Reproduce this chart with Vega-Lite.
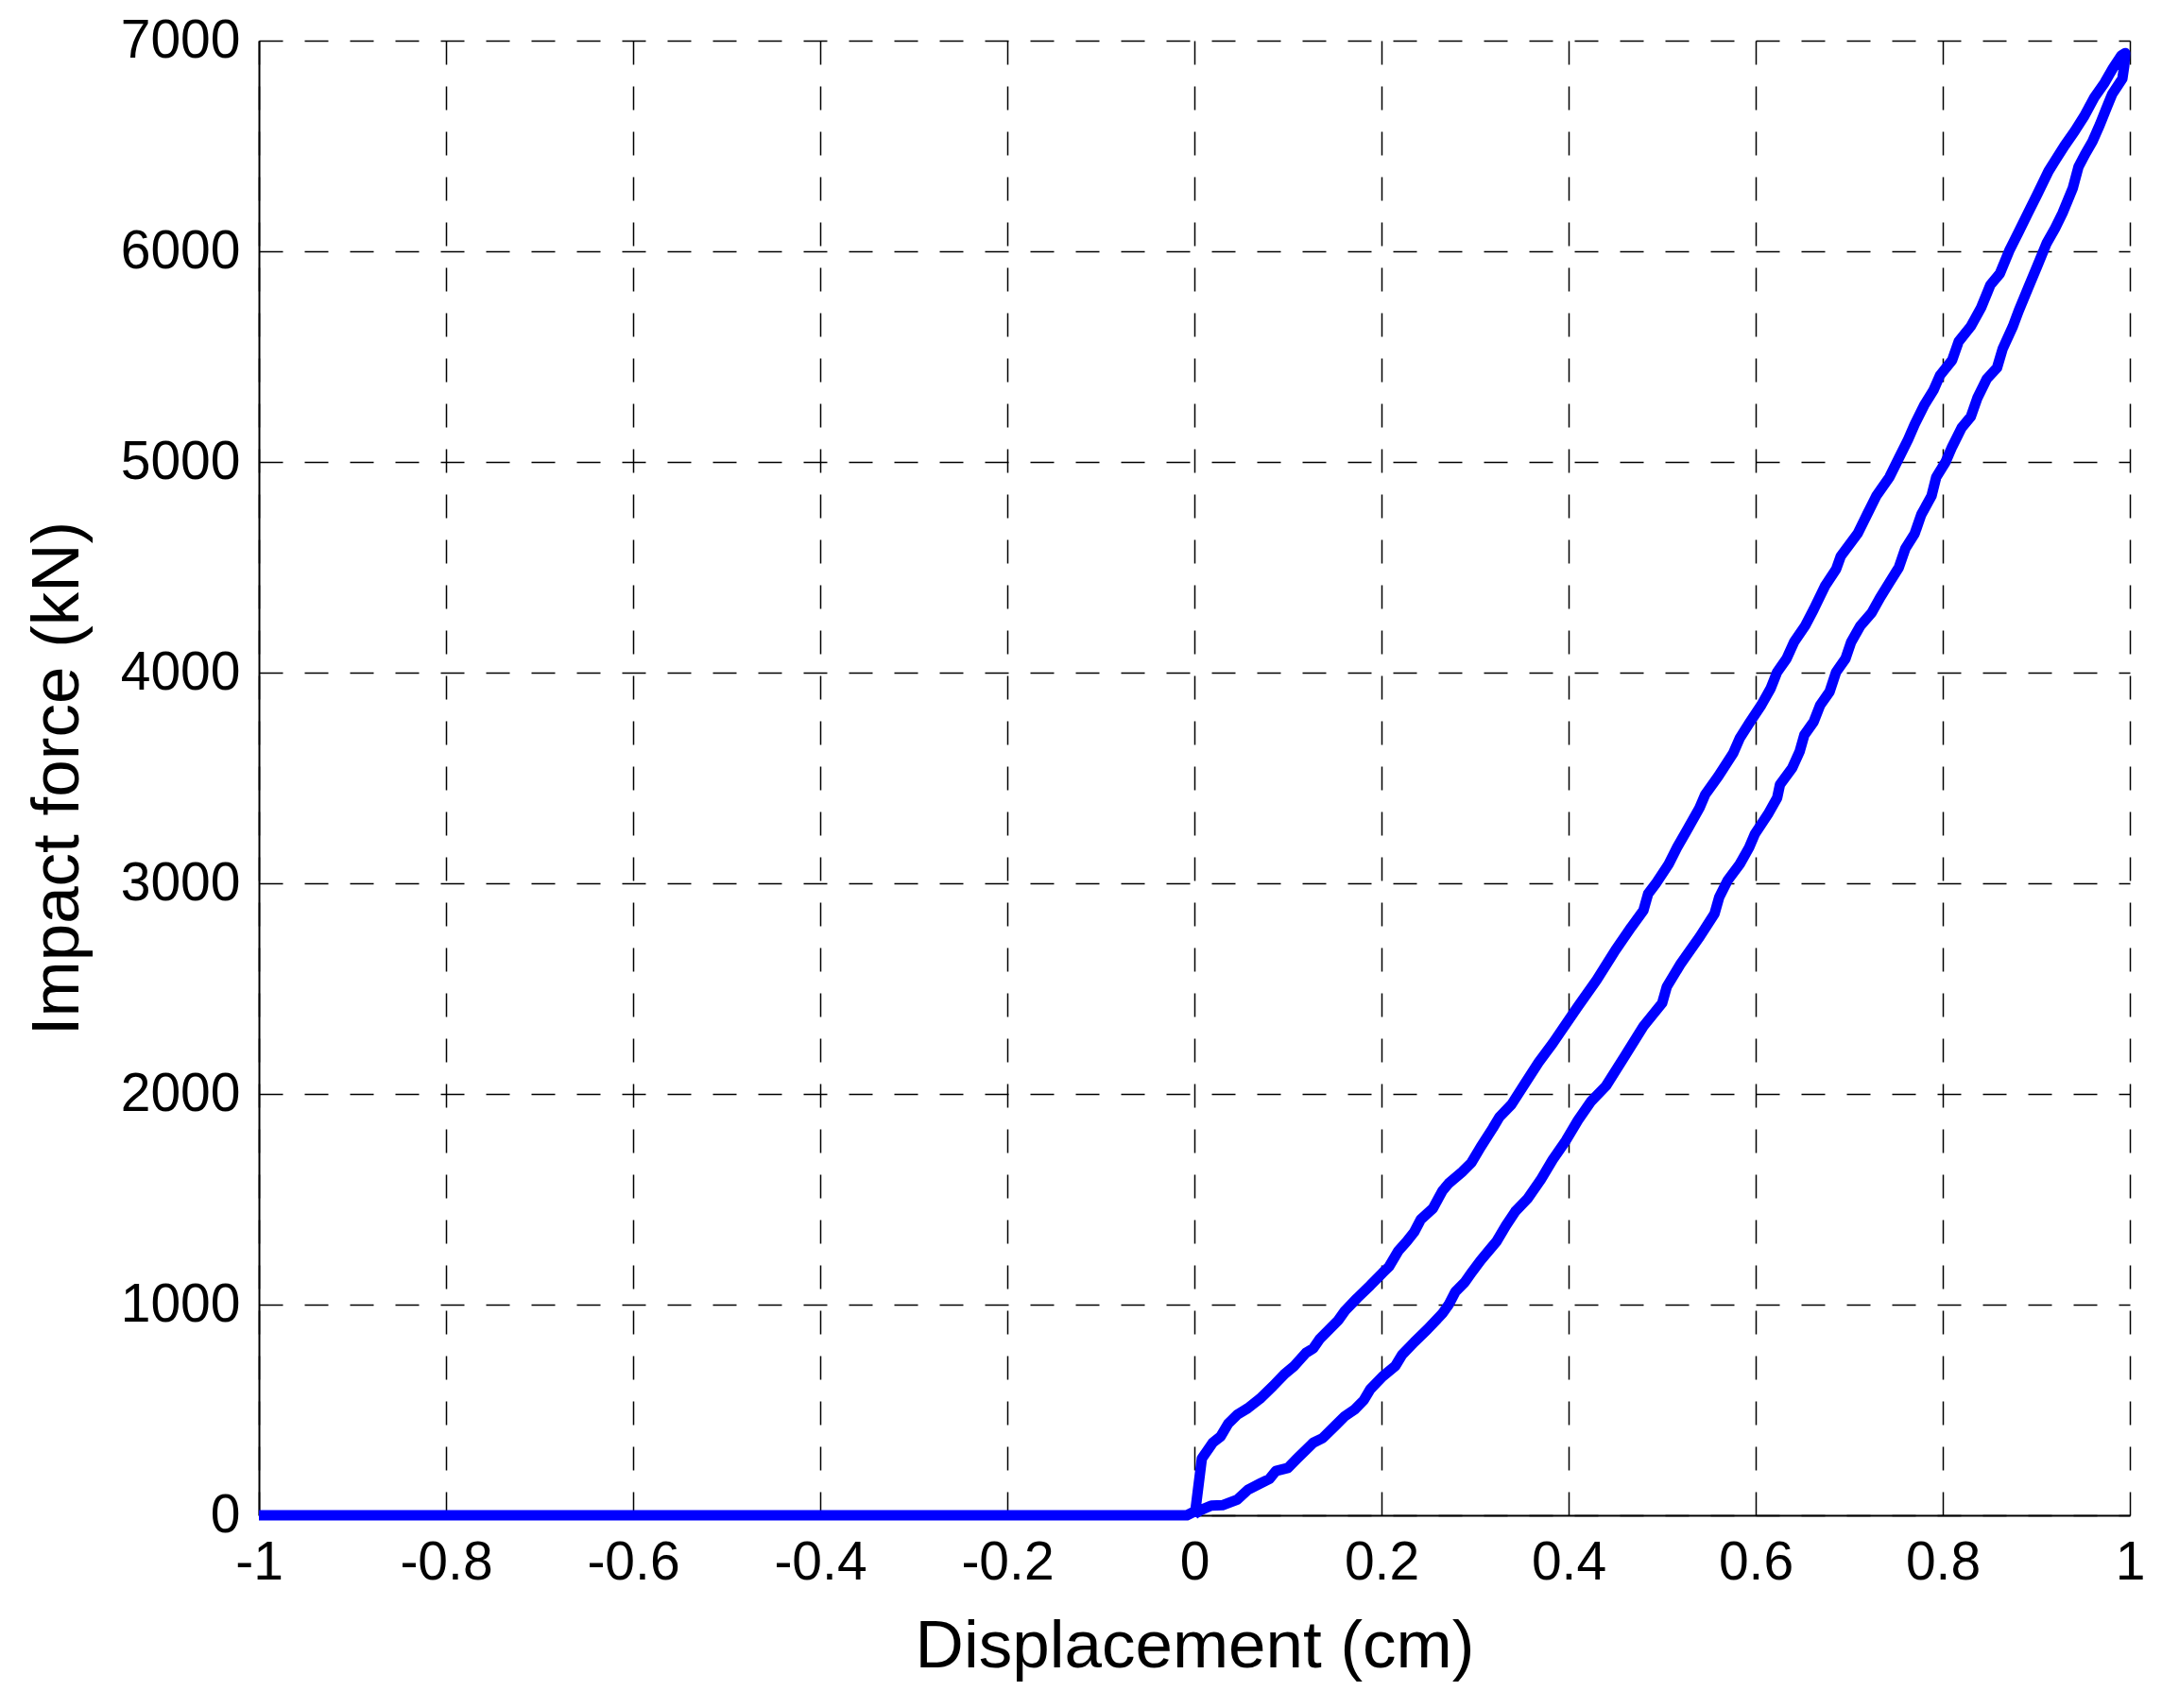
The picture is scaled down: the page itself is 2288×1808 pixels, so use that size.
{
  "$schema": "https://vega.github.io/schema/vega-lite/v6.json",
  "width": 1980,
  "height": 1561,
  "autosize": {"type": "none"},
  "padding": {"left": 274, "top": 43, "right": 34, "bottom": 204},
  "background": "white",
  "config": {
    "view": {"stroke": null},
    "font": "Liberation Sans",
    "axis": {
      "domainColor": "black",
      "domainWidth": 2,
      "grid": true,
      "gridColor": "black",
      "gridDash": [25, 23],
      "gridWidth": 1.5,
      "gridOpacity": 1,
      "ticks": false,
      "labelFont": "Liberation Sans",
      "labelFontSize": 57,
      "labelColor": "black",
      "titleFont": "Liberation Sans",
      "titleFontSize": 71,
      "titleFontWeight": "normal",
      "titleColor": "black"
    }
  },
  "data": {
    "values": [
      {"o": 1, "x": -1, "y": 0},
      {"o": 2, "x": -0.008, "y": 0},
      {"o": 3, "x": 0.001, "y": 20},
      {"o": 4, "x": 0.008, "y": 270},
      {"o": 5, "x": 0.0195, "y": 344},
      {"o": 6, "x": 0.028, "y": 374},
      {"o": 7, "x": 0.036, "y": 434},
      {"o": 8, "x": 0.046, "y": 478},
      {"o": 9, "x": 0.057, "y": 508},
      {"o": 10, "x": 0.07, "y": 553},
      {"o": 11, "x": 0.084, "y": 613},
      {"o": 12, "x": 0.097, "y": 673},
      {"o": 13, "x": 0.107, "y": 710},
      {"o": 14, "x": 0.119, "y": 770},
      {"o": 15, "x": 0.127, "y": 792},
      {"o": 16, "x": 0.134, "y": 837},
      {"o": 17, "x": 0.144, "y": 882},
      {"o": 18, "x": 0.154, "y": 927},
      {"o": 19, "x": 0.161, "y": 971},
      {"o": 20, "x": 0.174, "y": 1031},
      {"o": 21, "x": 0.188, "y": 1091},
      {"o": 22, "x": 0.201, "y": 1150},
      {"o": 23, "x": 0.208, "y": 1180},
      {"o": 24, "x": 0.218, "y": 1255},
      {"o": 25, "x": 0.227, "y": 1300},
      {"o": 26, "x": 0.235, "y": 1345},
      {"o": 27, "x": 0.242, "y": 1404},
      {"o": 28, "x": 0.255, "y": 1457},
      {"o": 29, "x": 0.265, "y": 1539},
      {"o": 30, "x": 0.272, "y": 1576},
      {"o": 31, "x": 0.286, "y": 1629},
      {"o": 32, "x": 0.296, "y": 1673},
      {"o": 33, "x": 0.306, "y": 1748},
      {"o": 34, "x": 0.319, "y": 1838},
      {"o": 35, "x": 0.326, "y": 1890},
      {"o": 36, "x": 0.339, "y": 1950},
      {"o": 37, "x": 0.353, "y": 2047},
      {"o": 38, "x": 0.368, "y": 2150},
      {"o": 39, "x": 0.383, "y": 2240},
      {"o": 40, "x": 0.393, "y": 2305},
      {"o": 41, "x": 0.41, "y": 2415},
      {"o": 42, "x": 0.43, "y": 2541},
      {"o": 43, "x": 0.45, "y": 2682},
      {"o": 44, "x": 0.467, "y": 2792},
      {"o": 45, "x": 0.48, "y": 2871},
      {"o": 46, "x": 0.485, "y": 2950},
      {"o": 47, "x": 0.493, "y": 2997},
      {"o": 48, "x": 0.507, "y": 3091},
      {"o": 49, "x": 0.516, "y": 3170},
      {"o": 50, "x": 0.526, "y": 3248},
      {"o": 51, "x": 0.54, "y": 3358},
      {"o": 52, "x": 0.546, "y": 3421},
      {"o": 53, "x": 0.56, "y": 3508},
      {"o": 54, "x": 0.576, "y": 3618},
      {"o": 55, "x": 0.583, "y": 3689},
      {"o": 56, "x": 0.593, "y": 3759},
      {"o": 57, "x": 0.606, "y": 3846},
      {"o": 58, "x": 0.616, "y": 3925},
      {"o": 59, "x": 0.623, "y": 4003},
      {"o": 60, "x": 0.633, "y": 4066},
      {"o": 61, "x": 0.641, "y": 4145},
      {"o": 62, "x": 0.653, "y": 4223},
      {"o": 63, "x": 0.662, "y": 4300},
      {"o": 64, "x": 0.674, "y": 4410},
      {"o": 65, "x": 0.686, "y": 4491},
      {"o": 66, "x": 0.691, "y": 4553},
      {"o": 67, "x": 0.709, "y": 4660},
      {"o": 68, "x": 0.719, "y": 4750},
      {"o": 69, "x": 0.729, "y": 4839},
      {"o": 70, "x": 0.743, "y": 4928},
      {"o": 71, "x": 0.753, "y": 5018},
      {"o": 72, "x": 0.763, "y": 5107},
      {"o": 73, "x": 0.77, "y": 5179},
      {"o": 74, "x": 0.78, "y": 5268},
      {"o": 75, "x": 0.79, "y": 5340},
      {"o": 76, "x": 0.797, "y": 5411},
      {"o": 77, "x": 0.81, "y": 5483},
      {"o": 78, "x": 0.817, "y": 5572},
      {"o": 79, "x": 0.83, "y": 5644},
      {"o": 80, "x": 0.841, "y": 5733},
      {"o": 81, "x": 0.851, "y": 5841},
      {"o": 82, "x": 0.861, "y": 5894},
      {"o": 83, "x": 0.871, "y": 6002},
      {"o": 84, "x": 0.881, "y": 6091},
      {"o": 85, "x": 0.891, "y": 6181},
      {"o": 86, "x": 0.901, "y": 6270},
      {"o": 87, "x": 0.913, "y": 6380},
      {"o": 88, "x": 0.92, "y": 6430},
      {"o": 89, "x": 0.93, "y": 6500},
      {"o": 90, "x": 0.941, "y": 6570},
      {"o": 91, "x": 0.951, "y": 6640},
      {"o": 92, "x": 0.962, "y": 6730},
      {"o": 93, "x": 0.973, "y": 6800},
      {"o": 94, "x": 0.982, "y": 6870},
      {"o": 95, "x": 0.991, "y": 6930},
      {"o": 96, "x": 0.995, "y": 6941},
      {"o": 97, "x": 0.994, "y": 6880},
      {"o": 98, "x": 0.992, "y": 6820},
      {"o": 99, "x": 0.981, "y": 6745},
      {"o": 100, "x": 0.975, "y": 6680},
      {"o": 101, "x": 0.968, "y": 6602},
      {"o": 102, "x": 0.96, "y": 6521},
      {"o": 103, "x": 0.952, "y": 6460},
      {"o": 104, "x": 0.945, "y": 6400},
      {"o": 105, "x": 0.939, "y": 6300},
      {"o": 106, "x": 0.928, "y": 6181},
      {"o": 107, "x": 0.92, "y": 6109},
      {"o": 108, "x": 0.911, "y": 6038},
      {"o": 109, "x": 0.901, "y": 5930},
      {"o": 110, "x": 0.891, "y": 5823},
      {"o": 111, "x": 0.881, "y": 5716},
      {"o": 112, "x": 0.875, "y": 5644},
      {"o": 113, "x": 0.864, "y": 5537},
      {"o": 114, "x": 0.858, "y": 5447},
      {"o": 115, "x": 0.847, "y": 5394},
      {"o": 116, "x": 0.837, "y": 5304},
      {"o": 117, "x": 0.83, "y": 5215},
      {"o": 118, "x": 0.82, "y": 5161},
      {"o": 119, "x": 0.81, "y": 5072},
      {"o": 120, "x": 0.803, "y": 5000},
      {"o": 121, "x": 0.793, "y": 4928},
      {"o": 122, "x": 0.788, "y": 4839},
      {"o": 123, "x": 0.777, "y": 4750},
      {"o": 124, "x": 0.77, "y": 4660},
      {"o": 125, "x": 0.76, "y": 4589},
      {"o": 126, "x": 0.753, "y": 4499},
      {"o": 127, "x": 0.743, "y": 4428},
      {"o": 128, "x": 0.733, "y": 4356},
      {"o": 129, "x": 0.724, "y": 4284},
      {"o": 130, "x": 0.712, "y": 4223},
      {"o": 131, "x": 0.702, "y": 4145},
      {"o": 132, "x": 0.696, "y": 4066},
      {"o": 133, "x": 0.686, "y": 4003},
      {"o": 134, "x": 0.679, "y": 3909},
      {"o": 135, "x": 0.669, "y": 3846},
      {"o": 136, "x": 0.662, "y": 3767},
      {"o": 137, "x": 0.652, "y": 3704},
      {"o": 138, "x": 0.647, "y": 3626},
      {"o": 139, "x": 0.639, "y": 3547},
      {"o": 140, "x": 0.626, "y": 3469},
      {"o": 141, "x": 0.623, "y": 3406},
      {"o": 142, "x": 0.613, "y": 3327},
      {"o": 143, "x": 0.599, "y": 3233},
      {"o": 144, "x": 0.593, "y": 3170},
      {"o": 145, "x": 0.583, "y": 3091},
      {"o": 146, "x": 0.57, "y": 3013},
      {"o": 147, "x": 0.561, "y": 2934},
      {"o": 148, "x": 0.556, "y": 2855},
      {"o": 149, "x": 0.54, "y": 2745},
      {"o": 150, "x": 0.52, "y": 2619},
      {"o": 151, "x": 0.505, "y": 2509},
      {"o": 152, "x": 0.5, "y": 2431},
      {"o": 153, "x": 0.48, "y": 2321},
      {"o": 154, "x": 0.46, "y": 2179},
      {"o": 155, "x": 0.44, "y": 2038},
      {"o": 156, "x": 0.424, "y": 1965},
      {"o": 157, "x": 0.41, "y": 1875},
      {"o": 158, "x": 0.397, "y": 1778},
      {"o": 159, "x": 0.383, "y": 1688},
      {"o": 160, "x": 0.37, "y": 1591},
      {"o": 161, "x": 0.356, "y": 1502},
      {"o": 162, "x": 0.343, "y": 1442},
      {"o": 163, "x": 0.333, "y": 1375},
      {"o": 164, "x": 0.323, "y": 1300},
      {"o": 165, "x": 0.316, "y": 1263},
      {"o": 166, "x": 0.306, "y": 1210},
      {"o": 167, "x": 0.296, "y": 1150},
      {"o": 168, "x": 0.289, "y": 1106},
      {"o": 169, "x": 0.279, "y": 1061},
      {"o": 170, "x": 0.272, "y": 1001},
      {"o": 171, "x": 0.265, "y": 957},
      {"o": 172, "x": 0.249, "y": 882},
      {"o": 173, "x": 0.235, "y": 822},
      {"o": 174, "x": 0.222, "y": 762},
      {"o": 175, "x": 0.215, "y": 710},
      {"o": 176, "x": 0.201, "y": 658},
      {"o": 177, "x": 0.188, "y": 598},
      {"o": 178, "x": 0.181, "y": 546},
      {"o": 179, "x": 0.171, "y": 501},
      {"o": 180, "x": 0.161, "y": 471},
      {"o": 181, "x": 0.151, "y": 427},
      {"o": 182, "x": 0.137, "y": 366},
      {"o": 183, "x": 0.127, "y": 344},
      {"o": 184, "x": 0.11, "y": 270},
      {"o": 185, "x": 0.1, "y": 225},
      {"o": 186, "x": 0.087, "y": 210},
      {"o": 187, "x": 0.08, "y": 172},
      {"o": 188, "x": 0.07, "y": 150},
      {"o": 189, "x": 0.057, "y": 120},
      {"o": 190, "x": 0.046, "y": 75},
      {"o": 191, "x": 0.03, "y": 48},
      {"o": 192, "x": 0.018, "y": 46},
      {"o": 193, "x": 0.006, "y": 23},
      {"o": 194, "x": 0.0, "y": 5}
    ]
  },
  "mark": {"type": "line", "color": "#0000FF", "strokeWidth": 11, "strokeJoin": "round", "strokeCap": "butt"},
  "encoding": {
    "x": {
      "field": "x",
      "type": "quantitative",
      "scale": {"domain": [-1, 1], "nice": false, "zero": false},
      "axis": {
        "title": "Displacement (cm)",
        "values": [-1, -0.8, -0.6, -0.4, -0.2, 0, 0.2, 0.4, 0.6, 0.8, 1],
        "labelExpr": "toString(datum.value)",
        "labelPadding": 22,
        "titlePadding": 26,
        "labelFlush": false,
        "labelOverlap": false
      }
    },
    "y": {
      "field": "y",
      "type": "quantitative",
      "scale": {"domain": [0, 7000], "nice": false},
      "axis": {
        "title": "Impact force (kN)",
        "values": [0, 1000, 2000, 3000, 4000, 5000, 6000, 7000],
        "format": "d",
        "labelPadding": 20,
        "titlePadding": 30,
        "labelFlush": false,
        "labelOverlap": false
      }
    },
    "order": {"field": "o", "type": "quantitative"}
  }
}
